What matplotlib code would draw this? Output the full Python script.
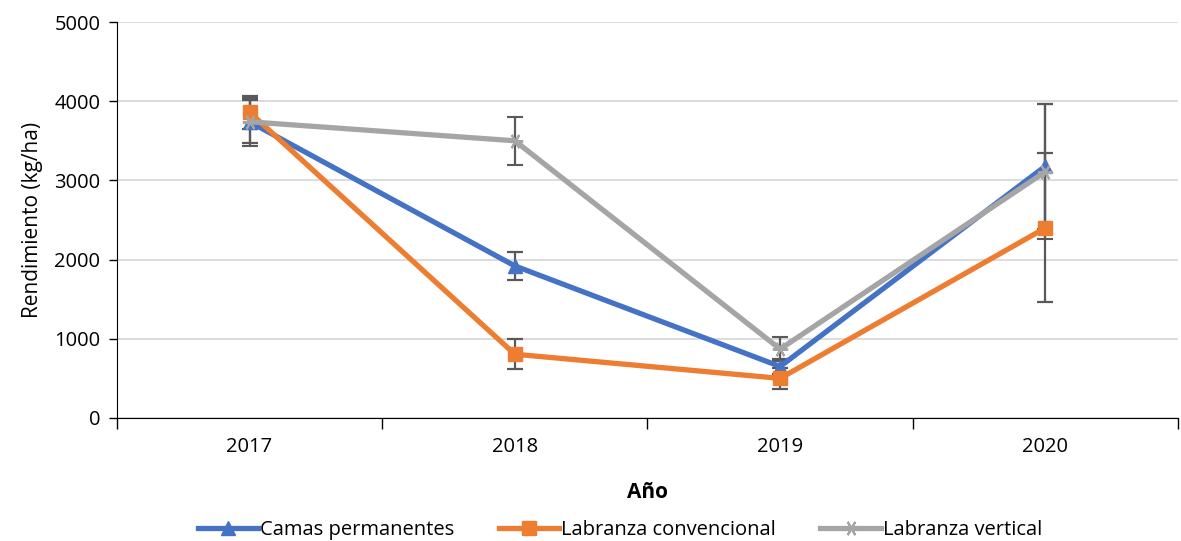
import matplotlib.pyplot as plt
from matplotlib.lines import Line2D
import numpy as np

plt.rcParams['font.family'] = ['Open Sans', 'DejaVu Sans']

years = ["2017", "2018", "2019", "2020"]

camas = [3740, 1920, 650, 3180]
camas_err = [270, 180, 100, 790]

convencional = [3860, 805, 500, 2400]
convencional_err = [210, 190, 135, 940]

vertical = [3740, 3500, 870, 3110]
vertical_err = [300, 300, 150, 850]

fig = plt.figure(figsize=(11.81, 5.41), dpi=100)
ax = fig.add_axes([0.099, 0.2274, 0.8985, 0.7319])

x = np.arange(len(years))
err_style = dict(ecolor="#595959", elinewidth=1.6, capsize=6, capthick=1.6)

ax.errorbar(x, camas, yerr=camas_err, color="#4472C4", lw=3.8, marker="^",
            markersize=10, zorder=3, **err_style)
ax.errorbar(x, convencional, yerr=convencional_err, color="#ED7D31", lw=3.8,
            marker="s", markersize=10, zorder=3, **err_style)
ax.errorbar(x, vertical, yerr=vertical_err, color="#A5A5A5", lw=3.8,
            marker=(6, 2, 90), markersize=11, markeredgewidth=1.5,
            zorder=3, **err_style)

ax.set_xlim(-0.5, 3.5)
ax.set_ylim(0, 5000)
ax.set_yticks([0, 1000, 2000, 3000, 4000, 5000])
ax.set_xticks(x)
ax.set_xticklabels(years)
ax.set_xticks(np.arange(-0.5, 4, 1), minor=True)
ax.tick_params(axis="x", which="major", length=0, pad=14, labelsize=14.5)
ax.tick_params(axis="x", which="minor", length=8, width=1, color="#000000",
               direction="out")
ax.tick_params(axis="y", length=6, width=1, labelsize=14.5, pad=6)

ax.yaxis.grid(True, color="#D9D9D9", lw=1.3)
ax.set_axisbelow(True)
for side in ["top", "right"]:
    ax.spines[side].set_visible(False)

ax.set_xlabel("Año", fontsize=15, fontweight="bold", labelpad=18)
ax.set_ylabel("Rendimiento (kg/ha)", fontsize=15, labelpad=8)

handles = [
    Line2D([], [], color="#4472C4", lw=3.8, marker="^", markersize=10),
    Line2D([], [], color="#ED7D31", lw=3.8, marker="s", markersize=10),
    Line2D([], [], color="#A5A5A5", lw=3.8, marker=(6, 2, 90), markersize=11,
           markeredgewidth=1.5),
]
labels = ["Camas permanentes", "Labranza convencional", "Labranza vertical"]
fig.legend(handles, labels, loc="center", bbox_to_anchor=(0.525, 0.02),
           ncol=3, frameon=False, fontsize=14.5, handlelength=3,
           columnspacing=2.2, handletextpad=0.1)

fig.savefig("out.png", dpi=100)
